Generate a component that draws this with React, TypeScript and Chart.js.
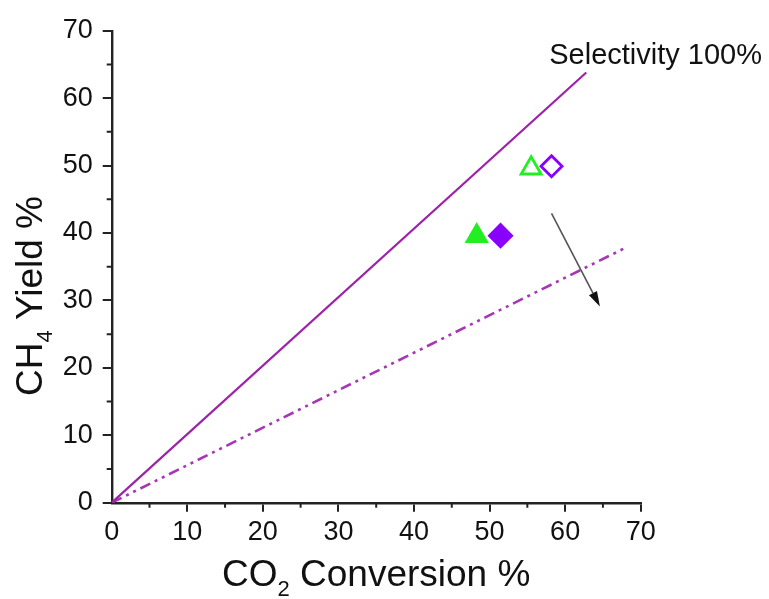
import React, { useEffect, useRef } from "react";
import { Chart, registerables } from "chart.js";

Chart.register(...registerables);

const FONT = '"Liberation Sans", Arial, Helvetica, sans-serif';

// Axis ticks (both axes run 0–70 %)
const majorTicks = [0, 10, 20, 30, 40, 50, 60, 70];
const minorTicks = [5, 15, 25, 35, 45, 55, 65];

// Reference lines
const selectivityLineX = [0, 62.8];
const selectivityLineY = [0, 63.8];
const lowerLineX = [0, 67.8];
const lowerLineY = [0, 37.7];

// Measured samples: open markers and filled markers
const openTriangleX = [55.5];
const openTriangleY = [49.6];
const openDiamondX = [58.2];
const openDiamondY = [49.9];
const filledTriangleX = [48.3];
const filledTriangleY = [39.55];
const filledDiamondX = [51.45];
const filledDiamondY = [39.6];

// Trend arrow (start, end) and line label anchor
const arrowX = [58.2, 64.6];
const arrowY = [42.9, 29.1];
const labelX = [57.9];
const labelY = [65.1];
const labelText = ["Selectivity 100%"];

const toPoints = (xs: number[], ys: number[]) => xs.map((x, i) => ({ x, y: ys[i] }));

const LINE_PURPLE = "#9c22a8";
const DASH_PURPLE = "#a637b3";
const GREEN = "#22ee22";
const VIOLET = "#8a00ff";
const AXIS = "#222222";

type Part = { t: string; size: number; dy: number };

function drawParts(ctx: CanvasRenderingContext2D, parts: Part[], cx: number, baseline: number) {
  let total = 0;
  const widths = parts.map((p) => {
    ctx.font = `${p.size}px ${FONT}`;
    const w = ctx.measureText(p.t).width;
    total += w;
    return w;
  });
  let x = cx - total / 2;
  ctx.textAlign = "left";
  ctx.textBaseline = "alphabetic";
  parts.forEach((p, i) => {
    ctx.font = `${p.size}px ${FONT}`;
    ctx.fillText(p.t, x, baseline + p.dy);
    x += widths[i];
  });
}

const decorations = {
  id: "decorations",
  afterDraw(chart: any) {
    const { ctx, chartArea } = chart;
    const xs = chart.scales.x;
    const ys = chart.scales.y;
    ctx.save();

    // minor tick marks
    ctx.strokeStyle = AXIS;
    ctx.lineWidth = 2;
    ctx.beginPath();
    minorTicks.forEach((v) => {
      const px = xs.getPixelForValue(v);
      ctx.moveTo(px, chartArea.bottom);
      ctx.lineTo(px, chartArea.bottom + 5);
      const py = ys.getPixelForValue(v);
      ctx.moveTo(chartArea.left, py);
      ctx.lineTo(chartArea.left - 5, py);
    });
    ctx.stroke();

    // arrow
    const x1 = xs.getPixelForValue(arrowX[0]);
    const y1 = ys.getPixelForValue(arrowY[0]);
    const x2 = xs.getPixelForValue(arrowX[1]);
    const y2 = ys.getPixelForValue(arrowY[1]);
    const ang = Math.atan2(y2 - y1, x2 - x1);
    const headLen = 15;
    const headHalf = 4.5;
    const bx = x2 - Math.cos(ang) * headLen;
    const by = y2 - Math.sin(ang) * headLen;
    ctx.strokeStyle = "#555555";
    ctx.lineWidth = 1.6;
    ctx.beginPath();
    ctx.moveTo(x1, y1);
    ctx.lineTo(bx, by);
    ctx.stroke();
    ctx.fillStyle = "#111111";
    ctx.beginPath();
    ctx.moveTo(x2, y2);
    ctx.lineTo(bx - Math.sin(ang) * headHalf, by + Math.cos(ang) * headHalf);
    ctx.lineTo(bx + Math.sin(ang) * headHalf, by - Math.cos(ang) * headHalf);
    ctx.closePath();
    ctx.fill();

    // line label
    ctx.fillStyle = "#111111";
    ctx.font = `29px ${FONT}`;
    ctx.textAlign = "left";
    ctx.textBaseline = "alphabetic";
    ctx.fillText(labelText[0], xs.getPixelForValue(labelX[0]), ys.getPixelForValue(labelY[0]));

    // axis titles
    const cx = (chartArea.left + chartArea.right) / 2;
    drawParts(
      ctx,
      [
        { t: "CO", size: 37, dy: 0 },
        { t: "2", size: 22, dy: 10 },
        { t: " Conversion %", size: 37, dy: 0 },
      ],
      cx,
      586
    );

    ctx.save();
    ctx.translate(42, 296);
    ctx.rotate(-Math.PI / 2);
    drawParts(
      ctx,
      [
        { t: "CH", size: 37, dy: 0 },
        { t: "4", size: 22, dy: 10 },
        { t: " Yield %", size: 37, dy: 0 },
      ],
      0,
      0
    );
    ctx.restore();

    ctx.restore();
  },
};

export default function App() {
  const canvasRef = useRef<HTMLCanvasElement | null>(null);

  useEffect(() => {
    if (!canvasRef.current) return;
    const tickFont = { family: FONT, size: 27 };
    const chart = new Chart(canvasRef.current, {
      type: "scatter",
      data: {
        datasets: [
          {
            data: toPoints(selectivityLineX, selectivityLineY),
            showLine: true,
            borderColor: LINE_PURPLE,
            borderWidth: 2.2,
            pointRadius: 0,
          },
          {
            data: toPoints(lowerLineX, lowerLineY),
            showLine: true,
            borderColor: DASH_PURPLE,
            borderWidth: 2.6,
            borderDash: [11, 5, 3, 5, 3, 5],
            pointRadius: 0,
          },
          {
            data: toPoints(openTriangleX, openTriangleY),
            pointStyle: "triangle",
            pointRadius: 11.5,
            borderColor: GREEN,
            backgroundColor: "rgba(0,0,0,0)",
            borderWidth: 2.8,
          },
          {
            data: toPoints(openDiamondX, openDiamondY),
            pointStyle: "rectRot",
            pointRadius: 10.5,
            borderColor: VIOLET,
            backgroundColor: "rgba(0,0,0,0)",
            borderWidth: 2.8,
          },
          {
            data: toPoints(filledTriangleX, filledTriangleY),
            pointStyle: "triangle",
            pointRadius: 12.5,
            borderColor: GREEN,
            backgroundColor: GREEN,
            borderWidth: 1.5,
          },
          {
            data: toPoints(filledDiamondX, filledDiamondY),
            pointStyle: "rectRot",
            pointRadius: 12,
            borderColor: VIOLET,
            backgroundColor: VIOLET,
            borderWidth: 1.5,
          },
        ],
      },
      options: {
        responsive: false,
        animation: false,
        devicePixelRatio: 1,
        layout: { padding: { top: 30.7, right: 128.3, left: 0, bottom: 0 } },
        plugins: { legend: { display: false }, tooltip: { enabled: false } },
        scales: {
          x: {
            type: "linear",
            min: 0,
            max: 70,
            afterFit: (s: any) => {
              s.height = 96.3;
            },
            afterBuildTicks: (s: any) => {
              s.ticks = majorTicks.map((v) => ({ value: v }));
            },
            ticks: { font: tickFont, color: "#111111", padding: 5, maxRotation: 0, autoSkip: false },
            grid: {
              display: true,
              drawOnChartArea: false,
              drawTicks: true,
              tickLength: 9,
              lineWidth: 2,
              color: (c: any) => (c.tick && c.tick.value === 0 ? "rgba(0,0,0,0)" : AXIS),
            },
            border: { display: true, color: AXIS, width: 2.4 },
          },
          y: {
            type: "linear",
            min: 0,
            max: 70,
            afterFit: (s: any) => {
              s.width = 111.7;
            },
            afterBuildTicks: (s: any) => {
              s.ticks = majorTicks.map((v) => ({ value: v }));
            },
            ticks: { font: tickFont, color: "#111111", padding: 10, autoSkip: false },
            grid: {
              display: true,
              drawOnChartArea: false,
              drawTicks: true,
              tickLength: 9,
              lineWidth: 2,
              color: AXIS,
            },
            border: { display: true, color: AXIS, width: 2.4 },
          },
        },
      },
      plugins: [decorations],
    });
    return () => chart.destroy();
  }, []);

  return (
    <div style={{ position: "fixed", left: 0, top: 0, width: 769, height: 599, background: "#ffffff" }}>
      <canvas ref={canvasRef} width={769} height={599} style={{ display: "block" }} />
    </div>
  );
}
